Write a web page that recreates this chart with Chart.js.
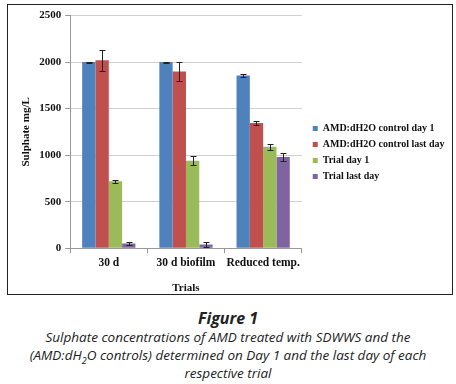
<!DOCTYPE html>
<html>
<head>
<meta charset="utf-8">
<script src="https://cdn.jsdelivr.net/npm/chart.js@4/dist/chart.umd.min.js"></script>
<style>
  body { margin: 0; background: #fff; width: 456px; height: 384px; position: relative; overflow: hidden; }
  #frame { position: absolute; left: 7px; top: 4px; width: 444px; height: 289px; border: 1.5px solid #222; }
  #wrap { position: absolute; left: 0; top: 0; width: 452px; height: 289px; }
  #caption { position: absolute; left: 0; top: 308px; width: 456px; text-align: center;
             font-family: "Open Sans", sans-serif; font-style: italic; color: #222; }
  #caption .fig { font-weight: bold; font-size: 16px; line-height: 20px; }
  #caption .txt { font-size: 13.5px; line-height: 18px; }
  #caption sub { font-size: 9px; line-height: 0; }
</style>
</head>
<body>
<div id="frame"><div id="wrap"><canvas id="myChart"></canvas></div></div>
<div id="caption">
  <div class="fig">Figure 1</div>
  <div class="txt">Sulphate concentrations of AMD treated with SDWWS and the<br>(AMD:dH<sub>2</sub>O controls) determined on Day 1 and the last day of each<br>respective trial</div>
</div>
<script>
const trials = ["30 d", "30 d biofilm", "Reduced temp."];
const seriesNames = ["AMD:dH2O control day 1", "AMD:dH2O control last day", "Trial day 1", "Trial last day"];
const controlDay1 = [2000, 2000, 1855];
const controlLastDay = [2020, 1900, 1345];
const trialDay1 = [720, 940, 1090];
const trialLastDay = [50, 40, 980];
const errControlDay1 = [5, 5, 20];
const errControlLastDay = [115, 105, 20];
const errTrialDay1 = [18, 50, 35];
const errTrialLastDay = [15, 22, 38];
const yTicks = [0, 500, 1000, 1500, 2000, 2500];

const colors = ["#4F81BD", "#C0504D", "#9BBB59", "#8064A2"];
const values = [controlDay1, controlLastDay, trialDay1, trialLastDay];
const errors = [errControlDay1, errControlLastDay, errTrialDay1, errTrialLastDay];

const serif = "'Liberation Serif', 'Times New Roman', serif";

// error bars drawn from the y scale
const errorBars = {
    id: "errorBars",
    afterDatasetsDraw(chart) {
        const ctx = chart.ctx;
        const y = chart.scales.y;
        ctx.save();
        ctx.strokeStyle = "#222";
        ctx.lineWidth = 1;
        chart.data.datasets.forEach(function(ds, i) {
            const meta = chart.getDatasetMeta(i);
            meta.data.forEach(function(bar, j) {
                const v = ds.data[j];
                const e = errors[i][j];
                const x = Math.round(bar.x) + 0.5;
                const top = Math.round(y.getPixelForValue(v + e)) + 0.5;
                const bot = Math.round(y.getPixelForValue(v - e)) + 0.5;
                ctx.beginPath();
                ctx.moveTo(x, top); ctx.lineTo(x, bot);
                ctx.moveTo(x - 3, top); ctx.lineTo(x + 3, top);
                ctx.moveTo(x - 3, bot); ctx.lineTo(x + 3, bot);
                ctx.stroke();
            });
        });
        ctx.restore();
    }
};

const data = {
    labels: trials,
    datasets: values.map(function(v, i) {
        return {
            label: seriesNames[i],
            data: v,
            backgroundColor: colors[i],
            borderWidth: 0,
            categoryPercentage: 0.69,
            barPercentage: 1.0
        };
    })
};

const config = {
    type: "bar",
    data: data,
    options: {
        responsive: true,
        maintainAspectRatio: false,
        animation: false,
        layout: { padding: { top: 6, left: 4, right: 5.5, bottom: 0 } },
        plugins: {
            tooltip: { enabled: false },
            legend: {
                position: "right",
                align: "center",
                maxWidth: 200,
                labels: {
                    color: "#111",
                    boxWidth: 5,
                    boxHeight: 5,
                    padding: 6,
                    font: { family: serif, size: 10, weight: "bold" }
                }
            }
        },
        scales: {
            x: {
                offset: true,
                grid: { display: true, drawOnChartArea: false, offset: true, tickLength: 5, color: "#999" },
                border: { color: "#999" },
                ticks: { color: "#111", padding: 3, maxRotation: 0, autoSkip: false, font: { family: serif, size: 11.5, weight: "bold" } },
                title: { display: true, text: "Trials", color: "#111", padding: { top: 10, bottom: 0 }, font: { family: serif, size: 11, weight: "bold", lineHeight: 1.0 } }
            },
            y: {
                min: 0,
                max: 2500,
                afterBuildTicks: function(axis) { axis.ticks = yTicks.map(function(t) { return { value: t }; }); },
                grid: { color: "#d0d0d0", tickLength: 5, tickColor: "#999" },
                border: { color: "#999" },
                ticks: { color: "#111", padding: 4, callback: function(v) { return String(v); }, font: { family: serif, size: 11, weight: "bold" } },
                title: { display: true, text: "Sulphate mg/L", color: "#111", padding: { top: 8, bottom: 2 }, font: { family: serif, size: 11, weight: "bold" } }
            },
            // empty right axis, only keeps a gap between plot and legend
            gap: {
                type: "linear",
                position: "right",
                grid: { display: false },
                border: { display: false },
                ticks: { display: false },
                afterFit: function(s) { s.width = 5; }
            }
        }
    },
    plugins: [errorBars]
};

let myChart = new Chart(document.getElementById("myChart"), config);
</script>
</body>
</html>
